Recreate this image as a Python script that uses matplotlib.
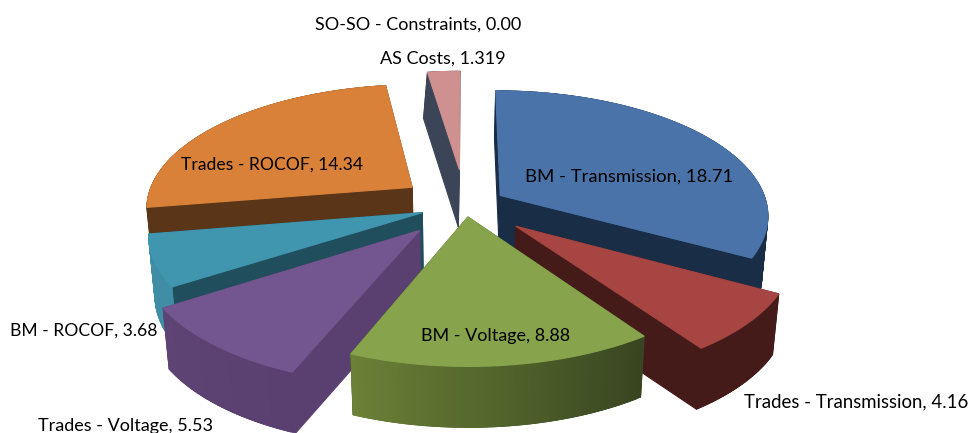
import numpy as np
import matplotlib
matplotlib.use("Agg")
import matplotlib.pyplot as plt
from matplotlib.colors import to_rgb
from matplotlib.patches import Polygon

# pie data, clockwise from 12 o'clock
categories = ["BM - Transmission", "Trades - Transmission", "BM - Voltage", "Trades - Voltage",
              "BM - ROCOF", "Trades - ROCOF", "AS Costs", "SO-SO - Constraints"]
values = [18.71, 4.16, 8.88, 5.53, 3.68, 14.34, 1.319, 0.00]
value_labels = ["18.71", "4.16", "8.88", "5.53", "3.68", "14.34", "1.319", "0.00"]

# per slice styling
explode = [0.155, 0.25, 0.097, 0.26, 0.17, 0.25, 0.30, 0.0]
lean = [0.005, 0.0, 0.0, 0.0, 0.0, 0.0, 0.035, 0.0]
top_colors = ["#4A74A9", "#A64542", "#87A44C", "#73568F", "#4096AF", "#DA8139", "#CF9090", "#CF9090"]
radial_colors = ["#1A2D47", "#451B1A", "#3A4820", "#5A4070", "#204E5D", "#5A3518", "#3C4558", "#3C4558"]
# outer wall colour at slice start and slice end
wall_colors = [("#1A2D47", "#1A2D47"), ("#451B1A", "#451B1A"), ("#384520", "#6B8237"),
               ("#5A4070", "#5D4475"), ("#3F8EA6", "#3F8EA6"), ("#5A3518", "#5A3518"),
               ("#3C4558", "#3C4558"), ("#3C4558", "#3C4558")]
# back to front
draw_order = [6, 5, 0, 4, 1, 3, 2]
label_pos = [(525, 177), (744, 402), (421, 336), (38, 426), (10, 331), (181, 165), (380, 59), (315, 25)]
label_size = [13.3, 13.4, 13, 13, 12.6, 12.6, 13, 13]

# projection of the pie plane on to the canvas
CX, CY = 465, 205
RX, RY = 267, 123
PERSP = 0.15
SHRINK = 0.98
DEPTH = 61


def project(x, y):
    w = 1 + PERSP * y
    return CX + RX * x / w, CY - RY * y / w


def drop(sx, sy, slope):
    # top edge point -> same point on the bottom of the pie
    d = np.minimum(DEPTH, DEPTH + 0.11 * (sy - CY))
    return CX + (sx - CX) * SHRINK - slope * np.maximum(CY - sy, 0), sy + d


fig = plt.figure(figsize=(9.71, 4.33), dpi=100)
ax = fig.add_axes([0, 0, 1, 1])
ax.set_xlim(0, 971)
ax.set_ylim(433, 0)
ax.axis("off")

angles = np.cumsum([0] + values) / sum(values) * 2 * np.pi

for i in draw_order:
    a0, a1 = angles[i], angles[i + 1]
    mid = (a0 + a1) / 2
    ex, ey = explode[i] * np.sin(mid), explode[i] * np.cos(mid)
    t = np.linspace(a0, a1, max(int(np.degrees(a1 - a0)), 2) + 1)
    sx, sy = project(ex + np.sin(t), ey + np.cos(t))
    bx, by = drop(sx, sy, lean[i])
    ax0, ay0 = project(ex, ey)
    bax, bay = drop(ax0, ay0, lean[i])

    # the two cut faces
    for k in (0, -1):
        ax.add_patch(Polygon([(ax0, ay0), (sx[k], sy[k]), (bx[k], by[k]), (bax, bay)],
                             facecolor=radial_colors[i], edgecolor=radial_colors[i], lw=0.8))
    # outer wall, one facet per degree, each overlapping the next so no seams show
    c0, c1 = np.array(to_rgb(wall_colors[i][0])), np.array(to_rgb(wall_colors[i][1]))
    n = len(t)
    for j in range(n - 1):
        col = c0 + (c1 - c0) * j / (n - 1)
        e = min(j + 2, n - 1)
        ax.add_patch(Polygon([(sx[j], sy[j]), (sx[e], sy[e]), (bx[e], by[e]), (bx[j], by[j])],
                             facecolor=col, edgecolor=col, lw=0.6))
    # top face
    ax.add_patch(Polygon(np.column_stack([np.r_[ax0, sx], np.r_[ay0, sy]]),
                         facecolor=top_colors[i], edgecolor=top_colors[i], lw=0.8))

for name, val, (x, y), size in zip(categories, value_labels, label_pos, label_size):
    ax.text(x, y, f"{name}, {val}", family="Lato", fontsize=size, color="black", ha="left", va="center")

fig.savefig("out.png", dpi=100)
